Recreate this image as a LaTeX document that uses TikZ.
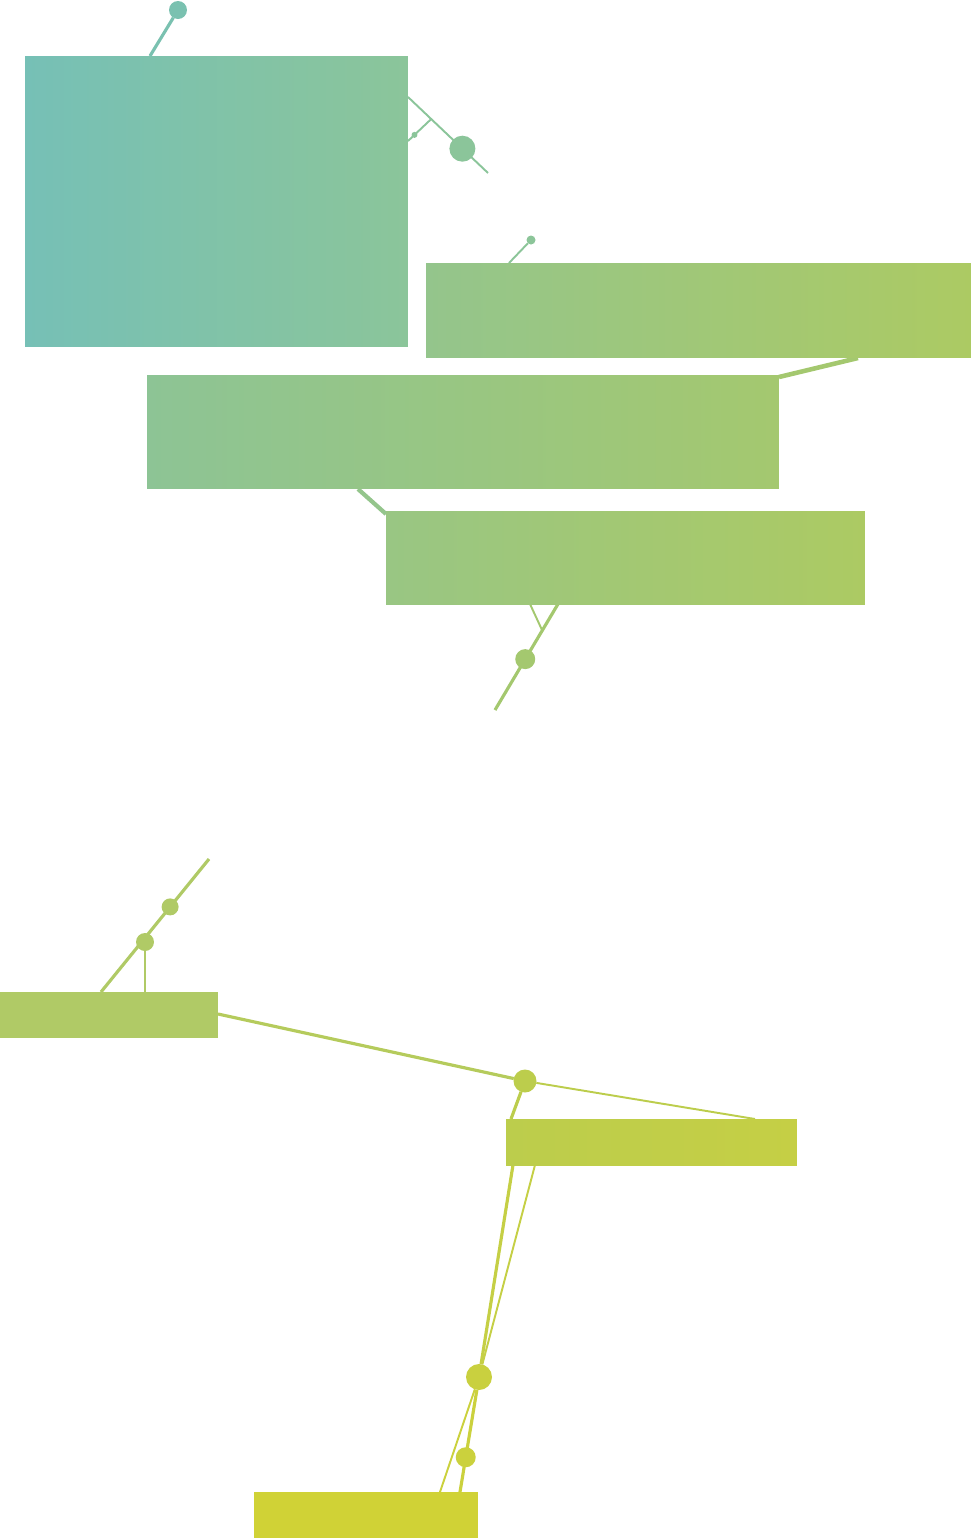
\documentclass[tikz,border=0pt]{standalone}
\usepackage{tikz}
\usetikzlibrary{positioning,backgrounds}
\definecolor{tealA}{HTML}{76C0B6}
\definecolor{tealB}{HTML}{8BC59A}
\definecolor{greenA}{HTML}{8DC495}
\definecolor{greenB}{HTML}{94C58C}
\definecolor{greenC}{HTML}{A4C86F}
\definecolor{greenD}{HTML}{ACCA63}
\definecolor{limeA}{HTML}{B0CA66}
\definecolor{limeB}{HTML}{BCCD4C}
\definecolor{limeC}{HTML}{C5CF45}
\definecolor{yellowA}{HTML}{D0D236}

\begin{document}
\begin{tikzpicture}[x=0.02cm, y=-0.02cm,
    box/.style={rectangle, inner sep=0pt, outer sep=0pt, draw=none},
    dot/.style={circle, inner sep=0pt, outer sep=0pt, draw=none, fill=#1},
    wire/.style={line width=1.8pt, draw=#1},
    thin wire/.style={line width=1.1pt, draw=#1}]
  \useasboundingbox (0,0) rectangle (971,1539);
  % upper boxes
  \node[box, left color=tealA, right color=tealB, minimum width=7.66cm, minimum height=5.82cm] (b1) at (216.5,201.5) {};
  \node[box, left color=greenB, right color=greenD, minimum width=10.9cm, minimum height=1.9cm] (b2) at (698.5,310.5) {};
  \node[box, left color=greenA, right color=greenC, minimum width=12.64cm, minimum height=2.28cm] (b3) at (463,432) {};
  \node[box, left color=greenB!70!greenC, right color=greenD, minimum width=9.58cm, minimum height=1.86cm] (b4) at (625.5,557.5) {};
  % lower boxes
  \node[box, fill=limeA, minimum width=4.36cm, minimum height=0.92cm] (b5) at (109,1015) {};
  \node[box, left color=limeB, right color=limeC, minimum width=5.82cm, minimum height=0.92cm] (b6) at (651.5,1142) {};
  \node[box, fill=yellowA, minimum width=4.48cm, minimum height=0.92cm] (b7) at (366,1515) {};
  % dots
  \node[dot=tealA!80!tealB, minimum size=0.36cm] (d1) at (178,10) {};
  \node[dot=tealB!90!greenB, minimum size=0.18cm] (d4) at (531,240) {};
  \node[dot=limeA, minimum size=0.36cm] (d7) at (145,942) {};
  \node[dot=limeB, minimum size=0.46cm] (d8) at (525,1081) {};
  \node[dot=limeC!60!yellowA, minimum size=0.52cm] (d9) at (479,1377) {};
  % free ends
  \coordinate (b1top) at (150,56);
  \coordinate (b1r) at (408,97);
  \coordinate (tail1) at (488,173);
  \coordinate (b2top) at (509,263);
  \coordinate (b2bot) at (858,358);
  \coordinate (b3r) at (779,377);
  \coordinate (b3bot) at (358,489);
  \coordinate (b4l) at (386,514);
  \coordinate (b4bot) at (558,604);
  \coordinate (b4bot2) at (530,604);
  \coordinate (tail2) at (495,710);
  \coordinate (tail3) at (209,859);
  \coordinate (b5top) at (101,992);
  \coordinate (b5top2) at (145,992);
  \coordinate (b5r) at (218,1014);
  \coordinate (b6top) at (755,1119);
  \coordinate (b6top2) at (511,1119);
  \coordinate (b6bot) at (513,1165);
  \coordinate (b6bot2) at (535,1165);
  \coordinate (b7top) at (460,1492);
  \coordinate (b7top2) at (440,1492);
  \begin{scope}[on background layer]
    \draw[wire=tealA!80!tealB] (d1) -- (b1top);
    \draw[thin wire=tealB] (b1r) -- node[dot=tealB, minimum size=0.52cm, pos=0.68] (d2) {} node[pos=0.29] (br1) {} (tail1);
    \draw[thin wire=tealB] (br1.center) -- node[dot=tealB, minimum size=0.12cm, pos=0.72] (d3) {} (408,141);
    \draw[thin wire=tealB!90!greenB] (d4) -- (b2top);
    \draw[line width=2.6pt, draw=greenC] (b2bot) -- (b3r);
    \draw[line width=2.4pt, draw=greenB] (b3bot) -- (b4l);
    \draw[wire=greenC] (b4bot) -- node[dot=greenC, minimum size=0.4cm, pos=0.52] (d5) {} node[pos=0.25] (br2) {} (tail2);
    \draw[thin wire=greenC] (b4bot2) -- (br2.center);
    \draw[wire=limeA] (tail3) -- node[dot=limeA, minimum size=0.34cm, pos=0.36] (d6) {} (b5top);
    \draw[thin wire=limeA] (d7.center) -- (b5top2);
    \draw[wire=limeA!60!limeB] (b5r) -- (d8);
    \draw[thin wire=limeB] (d8) -- (b6top);
    \draw[wire=limeB] (d8) -- (b6top2);
    \draw[wire=limeC] (b6bot) -- (d9);
    \draw[thin wire=limeC] (b6bot2) -- (d9);
    \draw[wire=limeC!50!yellowA] (d9) -- node[dot=limeC!50!yellowA, minimum size=0.4cm, pos=0.66] (d10) {} (b7top);
    \draw[thin wire=limeC!50!yellowA] (d9) -- (b7top2);
  \end{scope}
\end{tikzpicture}
\end{document}
